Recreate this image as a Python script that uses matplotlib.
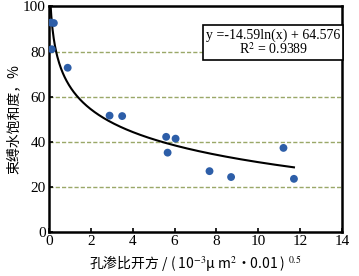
import numpy as np
import matplotlib
matplotlib.use("Agg")
import matplotlib.pyplot as plt

# data
perm_sqrt = [0.10, 0.24, 0.14, 0.90, 2.90, 3.50, 5.60, 6.05, 5.67, 7.67, 8.70, 11.20, 11.70]
swi = [92.8, 92.6, 81.0, 72.8, 51.6, 51.4, 42.2, 41.4, 35.2, 27.0, 24.4, 37.3, 23.6]

fit_a = -14.59
fit_b = 64.576
fit_r2 = 0.9389
x_ticks = [0, 2, 4, 6, 8, 10, 12, 14]
y_ticks = [0, 20, 40, 60, 80, 100]
grid_y = [20, 40, 60, 80]

plt.rcParams['mathtext.fontset'] = 'stix'
serif = 'Liberation Serif'
cjk = ['Noto Sans CJK SC', 'Liberation Serif']

fig = plt.figure(figsize=(3.59, 2.76), dpi=100)
ax = fig.add_axes([0.136, 0.159, 0.817, 0.818])

for g in grid_y:
    ax.axhline(g, color='#9aa868', lw=1.0, ls=(0, (3, 1.5)), zorder=1)

# fitted log curve, from where it leaves the top of the axes to the last point
x_start = np.exp((100 - fit_b) / fit_a)
xf = np.linspace(x_start, 11.7, 400)
ax.plot(xf, fit_a * np.log(xf) + fit_b, color='black', lw=1.5, zorder=2)

ax.scatter(perm_sqrt, swi, s=32, color='#2d5ea8', zorder=3, edgecolors='none')

ax.set_xlim(0, 14)
ax.set_ylim(0, 100)
ax.set_xticks(x_ticks)
ax.set_yticks(y_ticks)
ax.tick_params(direction='in', length=3, width=1.2, labelsize=11, pad=2)
for lab in ax.get_xticklabels() + ax.get_yticklabels():
    lab.set_fontfamily(serif)
for s in ax.spines.values():
    s.set_linewidth(1.8)

ax.text(0.765, 0.84, f"y =-{abs(fit_a)}ln(x) + {fit_b}\nR$^2$ = {fit_r2}",
        transform=ax.transAxes, ha='center', va='center', fontsize=10,
        family=serif, linespacing=0.95,
        bbox=dict(boxstyle='square,pad=0.2', fc='white', ec='black', lw=1.2))

ax.set_xlabel("孔渗比开方 / ( 10$^{-3}$μ m$^{2}$·0.01 ) $^{0.5}$",
              family=cjk, fontsize=10, labelpad=4)
ax.set_ylabel("束缚水饱和度，%", family=cjk, fontsize=10, labelpad=2)

fig.savefig("out.png", dpi=100)
